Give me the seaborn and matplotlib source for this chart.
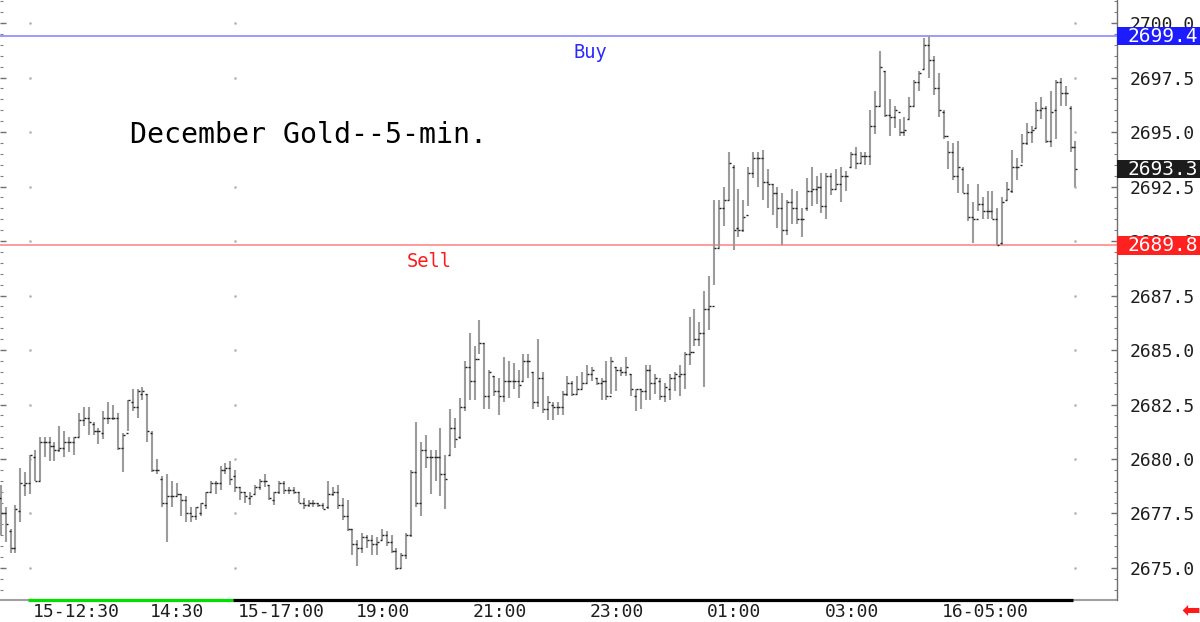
import numpy as np
import pandas as pd
import matplotlib
matplotlib.use("Agg")
import matplotlib.pyplot as plt
import matplotlib.transforms as mtransforms
from matplotlib.patches import Rectangle
from matplotlib.ticker import MultipleLocator
import seaborn as sns

# 5-minute bars, December gold (one value per bar)
opens = [2678.2, 2677.5, 2676.7, 2675.9, 2677.6, 2678.8, 2678.9, 2680.1, 2679.0, 2680.8,
         2680.8, 2680.6, 2680.4, 2680.5, 2680.8, 2680.8, 2681.0, 2681.8, 2681.9, 2681.6,
         2681.3, 2681.2, 2681.9, 2681.9, 2681.9, 2680.5, 2681.2, 2682.6, 2682.4, 2683.0,
         2683.0, 2681.2, 2679.5, 2679.1, 2678.0, 2678.3, 2678.3, 2678.4, 2678.1, 2677.5,
         2677.4, 2677.5, 2677.9, 2678.5, 2678.9, 2678.9, 2679.5, 2679.6, 2679.2, 2678.7,
         2678.5, 2678.2, 2678.4, 2678.7, 2679.0, 2678.8, 2678.1, 2678.5, 2678.9, 2678.6,
         2678.6, 2678.5, 2678.0, 2677.9, 2678.0, 2678.0, 2677.9, 2677.8, 2678.4, 2678.5,
         2677.9, 2677.4, 2676.8, 2676.1, 2675.9, 2676.4, 2676.3, 2676.1, 2676.3, 2676.5,
         2676.2, 2675.8, 2675.0, 2675.6, 2676.5, 2679.4, 2678.0, 2680.4, 2680.1, 2680.1,
         2680.1, 2679.3, 2680.2, 2681.4, 2681.0, 2682.4, 2684.2, 2683.6, 2684.6, 2685.3,
         2682.9, 2683.8, 2683.1, 2682.9, 2683.6, 2683.6, 2683.6, 2683.6, 2684.5, 2684.0,
         2682.6, 2683.7, 2682.3, 2682.5, 2682.4, 2682.4, 2683.0, 2683.5, 2683.0, 2683.2,
         2683.5, 2683.9, 2683.7, 2683.5, 2683.6, 2682.9, 2684.2, 2684.1, 2684.0, 2683.9,
         2682.9, 2683.2, 2683.1, 2684.1, 2683.5, 2683.6, 2682.9, 2683.2, 2683.7, 2683.8,
         2683.9, 2684.8, 2684.9, 2685.5, 2685.8, 2686.9, 2687.0, 2689.7, 2691.5, 2691.9,
         2693.4, 2690.6, 2690.5, 2691.2, 2693.1, 2693.8, 2693.8, 2692.7, 2692.6, 2692.2,
         2691.5, 2690.5, 2691.8, 2691.5, 2691.0, 2691.5, 2692.3, 2692.4, 2692.5, 2691.6,
         2693.0, 2692.4, 2692.6, 2693.0, 2693.4, 2694.0, 2693.6, 2693.9, 2693.9, 2695.3,
         2696.2, 2697.8, 2695.8, 2695.7, 2695.9, 2695.0, 2695.6, 2696.2, 2697.3, 2697.9,
         2699.0, 2698.3, 2697.0, 2695.9, 2694.8, 2694.1, 2693.0, 2693.3, 2692.2, 2691.1,
         2691.0, 2691.7, 2691.4, 2691.4, 2691.0, 2689.9, 2691.9, 2692.3, 2693.4, 2693.5,
         2694.5, 2695.0, 2695.2, 2696.0, 2696.1, 2694.6, 2696.0, 2697.3, 2696.8, 2696.1,
         2694.3]
highs = [2678.8, 2677.8, 2676.8, 2677.9, 2679.6, 2679.4, 2680.2, 2680.4, 2681.0, 2681.0,
         2681.0, 2680.8, 2681.5, 2681.3, 2681.0, 2681.0, 2682.1, 2682.4, 2682.4, 2681.7,
         2681.4, 2682.2, 2682.6, 2682.5, 2682.1, 2681.2, 2682.7, 2683.2, 2683.2, 2683.3,
         2683.0, 2681.3, 2680.0, 2679.2, 2679.3, 2679.0, 2678.9, 2678.4, 2678.3, 2677.8,
         2677.8, 2678.0, 2678.5, 2679.0, 2679.0, 2679.7, 2679.8, 2679.9, 2679.5, 2678.7,
         2678.5, 2678.5, 2678.8, 2679.1, 2679.3, 2678.8, 2678.5, 2679.0, 2679.0, 2678.7,
         2678.7, 2678.5, 2678.2, 2678.1, 2678.1, 2678.0, 2678.0, 2679.0, 2678.7, 2678.8,
         2678.2, 2678.1, 2676.8, 2676.3, 2676.6, 2676.5, 2676.5, 2676.4, 2676.8, 2676.7,
         2676.5, 2675.9, 2675.7, 2676.6, 2679.5, 2681.7, 2680.8, 2681.1, 2680.4, 2680.4,
         2681.4, 2680.2, 2682.3, 2681.9, 2682.8, 2684.5, 2685.8, 2685.2, 2686.4, 2685.3,
         2684.1, 2683.8, 2683.7, 2684.7, 2684.5, 2684.4, 2684.1, 2684.8, 2684.8, 2684.0,
         2685.5, 2684.0, 2682.9, 2682.6, 2682.6, 2683.1, 2683.8, 2683.6, 2683.8, 2684.0,
         2684.3, 2684.2, 2683.7, 2683.7, 2684.5, 2684.7, 2684.2, 2684.2, 2684.7, 2683.9,
         2683.2, 2683.2, 2684.3, 2684.3, 2683.9, 2683.7, 2683.5, 2683.9, 2684.0, 2684.3,
         2684.9, 2686.5, 2686.9, 2686.3, 2687.7, 2688.4, 2691.9, 2691.9, 2692.5, 2694.1,
         2693.5, 2692.4, 2691.9, 2693.4, 2694.1, 2694.1, 2694.2, 2693.3, 2692.6, 2692.5,
         2692.2, 2691.9, 2692.4, 2692.3, 2691.5, 2692.9, 2693.4, 2693.0, 2693.1, 2693.1,
         2693.1, 2693.3, 2693.4, 2693.2, 2694.1, 2694.3, 2694.1, 2694.1, 2696.0, 2696.9,
         2698.7, 2697.8, 2696.5, 2696.2, 2695.6, 2695.7, 2696.6, 2697.4, 2697.8, 2699.3,
         2699.4, 2698.5, 2697.7, 2696.0, 2694.6, 2694.5, 2694.6, 2693.4, 2692.6, 2691.8,
         2692.6, 2692.0, 2692.3, 2692.3, 2691.5, 2692.0, 2692.7, 2694.2, 2693.8, 2694.9,
         2695.4, 2695.3, 2696.4, 2696.6, 2696.2, 2696.9, 2697.4, 2697.5, 2697.1, 2696.2,
         2694.6]
lows = [2676.5, 2676.2, 2675.7, 2675.7, 2677.1, 2678.3, 2678.4, 2679.0, 2679.0, 2680.1,
        2679.9, 2679.9, 2680.3, 2680.1, 2680.3, 2680.2, 2681.0, 2681.5, 2681.1, 2681.1,
        2680.7, 2680.9, 2681.6, 2681.8, 2680.4, 2679.4, 2681.3, 2682.2, 2681.9, 2682.7,
        2680.8, 2679.4, 2679.3, 2677.8, 2676.2, 2677.8, 2678.3, 2677.4, 2677.1, 2677.1,
        2677.2, 2677.4, 2677.7, 2678.5, 2678.4, 2678.6, 2679.3, 2678.8, 2678.5, 2678.1,
        2678.0, 2677.9, 2678.4, 2678.6, 2678.7, 2678.1, 2677.9, 2678.4, 2678.4, 2678.4,
        2678.4, 2678.0, 2677.7, 2677.8, 2677.8, 2677.8, 2677.7, 2677.7, 2678.3, 2677.7,
        2677.2, 2676.7, 2675.6, 2675.1, 2675.7, 2675.9, 2675.6, 2675.6, 2676.3, 2676.0,
        2675.7, 2674.9, 2675.0, 2675.4, 2676.4, 2677.8, 2677.4, 2679.6, 2678.4, 2679.0,
        2678.3, 2677.7, 2680.2, 2680.5, 2680.9, 2682.2, 2682.7, 2682.7, 2684.8, 2682.3,
        2682.3, 2682.9, 2682.0, 2682.6, 2682.8, 2683.2, 2682.8, 2683.6, 2683.7, 2682.3,
        2682.4, 2682.1, 2681.8, 2681.8, 2682.0, 2682.0, 2682.9, 2682.9, 2683.0, 2683.2,
        2683.5, 2683.6, 2683.4, 2682.7, 2682.7, 2683.0, 2683.1, 2683.8, 2683.8, 2682.9,
        2682.2, 2682.3, 2682.7, 2682.7, 2683.0, 2682.7, 2682.6, 2682.7, 2683.1, 2682.9,
        2683.2, 2684.3, 2685.2, 2685.2, 2683.3, 2685.9, 2688.0, 2689.7, 2690.7, 2691.9,
        2689.6, 2690.2, 2690.4, 2691.6, 2692.9, 2692.5, 2691.9, 2691.5, 2691.2, 2690.6,
        2689.8, 2690.3, 2690.8, 2690.8, 2690.2, 2691.4, 2691.6, 2691.7, 2691.3, 2691.0,
        2692.1, 2692.4, 2691.8, 2692.3, 2693.4, 2693.3, 2693.6, 2693.5, 2693.5, 2694.9,
        2696.2, 2695.7, 2694.8, 2695.2, 2694.8, 2694.8, 2695.6, 2696.2, 2696.9, 2697.9,
        2697.5, 2696.7, 2695.7, 2694.7, 2693.3, 2692.8, 2692.2, 2692.2, 2690.9, 2689.9,
        2691.4, 2691.0, 2691.0, 2691.0, 2689.8, 2689.8, 2691.9, 2692.2, 2692.8, 2693.6,
        2694.4, 2694.5, 2695.2, 2695.6, 2694.5, 2694.3, 2694.7, 2696.2, 2696.2, 2694.1,
        2692.5]
closes = [2677.5, 2677.0, 2675.9, 2677.7, 2678.9, 2678.9, 2680.2, 2679.0, 2680.8, 2680.8,
          2680.6, 2680.4, 2680.5, 2680.8, 2680.8, 2681.0, 2681.8, 2681.9, 2681.7, 2681.3,
          2681.3, 2681.9, 2681.9, 2681.9, 2680.5, 2681.1, 2682.7, 2682.4, 2683.1, 2683.1,
          2681.3, 2679.5, 2679.5, 2678.0, 2678.3, 2678.3, 2678.4, 2678.1, 2677.5, 2677.4,
          2677.8, 2678.0, 2678.5, 2678.9, 2678.9, 2679.5, 2679.6, 2679.1, 2678.7, 2678.5,
          2678.3, 2678.3, 2678.7, 2679.0, 2679.0, 2678.2, 2678.5, 2678.9, 2678.6, 2678.6,
          2678.5, 2678.0, 2677.9, 2678.0, 2678.0, 2677.9, 2677.7, 2678.4, 2678.5, 2677.9,
          2677.4, 2676.8, 2676.1, 2675.9, 2676.4, 2676.3, 2676.1, 2676.2, 2676.5, 2676.2,
          2675.8, 2675.0, 2675.6, 2676.5, 2679.4, 2678.0, 2680.4, 2680.1, 2680.1, 2680.1,
          2679.3, 2679.1, 2681.4, 2680.9, 2682.4, 2684.2, 2683.6, 2684.6, 2685.3, 2682.9,
          2684.0, 2683.1, 2682.9, 2683.6, 2683.6, 2683.6, 2683.4, 2684.5, 2684.5, 2682.6,
          2683.7, 2682.3, 2682.6, 2682.4, 2682.4, 2683.0, 2683.5, 2683.0, 2683.2, 2683.5,
          2683.9, 2684.1, 2683.5, 2683.6, 2682.9, 2684.5, 2684.1, 2684.0, 2684.2, 2683.2,
          2683.2, 2683.1, 2684.1, 2683.5, 2683.7, 2682.9, 2683.3, 2683.7, 2683.9, 2683.9,
          2684.8, 2684.9, 2685.5, 2685.8, 2686.9, 2687.0, 2689.7, 2691.5, 2691.9, 2693.6,
          2690.5, 2690.5, 2691.1, 2693.1, 2693.8, 2693.8, 2692.7, 2692.6, 2692.2, 2691.5,
          2690.5, 2691.8, 2691.5, 2691.0, 2691.0, 2692.3, 2692.4, 2692.5, 2691.6, 2693.0,
          2692.4, 2692.6, 2693.0, 2693.0, 2694.0, 2693.6, 2693.9, 2693.9, 2695.3, 2696.2,
          2698.0, 2695.8, 2695.7, 2696.0, 2695.0, 2695.1, 2696.2, 2697.3, 2697.7, 2699.0,
          2698.3, 2697.0, 2696.0, 2694.8, 2694.1, 2693.0, 2693.4, 2692.2, 2691.1, 2691.0,
          2691.7, 2691.4, 2691.4, 2691.0, 2689.8, 2691.8, 2692.4, 2693.4, 2693.4, 2694.5,
          2695.0, 2695.1, 2696.0, 2696.1, 2694.6, 2695.9, 2697.3, 2696.8, 2696.8, 2694.3,
          2693.3]

# time axis: bar number of each labelled time
tick_bars = [6, 30, 48, 72, 96, 120, 144, 168, 192]
tick_labels = ['15-12:30', '14:30', '15-17:00', '19:00', '21:00', '23:00',
               '01:00', '03:00', '16-05:00']
price_ticks = [2675.0, 2677.5, 2680.0, 2682.5, 2685.0, 2687.5, 2690.0, 2692.5, 2695.0, 2697.5, 2700.0]
grid_bars = [6, 48, 220]
# session bands drawn along the time axis (start bar, end bar, colour)
sessions = [(5.6, 47.5, '#00e000'), (47.5, 219.4, 'black')]

buy_level = 2699.4
sell_level = 2689.8
last_price = 2693.3

df = pd.DataFrame({'bar': np.arange(len(highs)), 'open': opens, 'high': highs,
                   'low': lows, 'close': closes})

sns.set_style('white')
plt.rcParams['font.family'] = ['DejaVu Sans Mono', 'DejaVu Sans']

fig = plt.figure(figsize=(12, 6.22), dpi=100)
ax = fig.add_axes([0, 22 / 622, 1117 / 1200, 600 / 622])

# OHLC bars
ax.vlines(df['bar'], df['low'], df['high'], color='#9c9c9c', linewidth=1.5, zorder=3)
sns.scatterplot(data=df, x='bar', y='open', marker=0, s=2.5, color='#202020',
                linewidth=1, ax=ax, legend=False, zorder=4)
sns.scatterplot(data=df, x='bar', y='close', marker=1, s=2.5, color='#202020',
                linewidth=1, ax=ax, legend=False, zorder=4)
ax.set_xlabel('')
ax.set_ylabel('')

# buy / sell levels
ax.axhline(buy_level, color='#8080ff', linewidth=1.1, zorder=2)
ax.axhline(sell_level, color='#ff8080', linewidth=1.1, zorder=2)
ax.text(120.8, 2698.67, 'Buy', color='#2a2aff', fontsize=13.5, ha='center', va='center')
ax.text(87.7, 2689.04, 'Sell', color='#ff1a1a', fontsize=13.5, ha='center', va='center')

# faint grid dots
gx, gy = np.meshgrid(grid_bars, price_ticks)
ax.scatter(gx.ravel(), gy.ravel(), s=0.8, color='#b4b4b4', zorder=1)

ax.set_xlim(-0.15, 228.5)
ax.set_ylim(2673.53, 2701.06)

for side in ['top', 'left', 'bottom']:
    ax.spines[side].set_visible(False)
ax.spines['right'].set_color('#707070')
ax.spines['right'].set_linewidth(1)

# price axis on the right
ax.yaxis.tick_right()
ax.set_yticks(price_ticks)
ax.set_yticklabels(['%.1f' % p for p in price_ticks])
ax.yaxis.set_minor_locator(MultipleLocator(0.5))
ax.tick_params(axis='y', which='major', direction='in', length=4, width=1,
               color='#707070', labelcolor='#1e1e1e', labelsize=13, pad=9,
               left=True, right=True)
ax.tick_params(axis='y', which='minor', direction='in', length=2, width=0.8,
               color='#808080', left=True, right=True)

# time axis
ax.set_xticks(tick_bars)
ax.set_xticklabels(tick_labels)
ax.tick_params(axis='x', which='major', direction='out', length=16, width=1,
               color='#404040', labelcolor='#1e1e1e', labelsize=13, pad=-13.5)
offset = mtransforms.ScaledTranslation(3 / 100, 0, fig.dpi_scale_trans)
for lab in ax.get_xticklabels():
    lab.set_horizontalalignment('left')
    lab.set_transform(lab.get_transform() + offset)

xt = ax.get_xaxis_transform()
ax.plot([-0.15, 228.5], [0, 0], color='#a0a0a0', linewidth=1.5, transform=xt, clip_on=False)
for start, end, col in sessions:
    ax.plot([start, end], [0, 0], color=col, linewidth=2.3, transform=xt,
            clip_on=False, solid_capstyle='butt')

# title
fig.text(130 / 1200, 1 - 135 / 622, 'December Gold--5-min.', fontsize=20.3,
         ha='left', va='center', color='black')

# price boxes on the right axis
blend = mtransforms.blended_transform_factory(fig.transFigure, ax.transData)
for level, col in [(buy_level, '#1c1cff'), (last_price, '#1c1c1c'), (sell_level, '#ff2020')]:
    fig.add_artist(Rectangle((1117 / 1200, level - 0.42), 83 / 1200, 0.84,
                             transform=blend, facecolor=col, edgecolor='none', zorder=5))
    fig.text(1198 / 1200, level, '%.1f' % level, transform=blend, ha='right',
             va='center', color='white', fontsize=14, zorder=6)

fig.text(1191 / 1200, 1 - 611 / 622, '\u2b05', color='#ff1a1a', fontsize=16,
         ha='center', va='center', family='DejaVu Sans')

fig.savefig('out.png', dpi=100)
